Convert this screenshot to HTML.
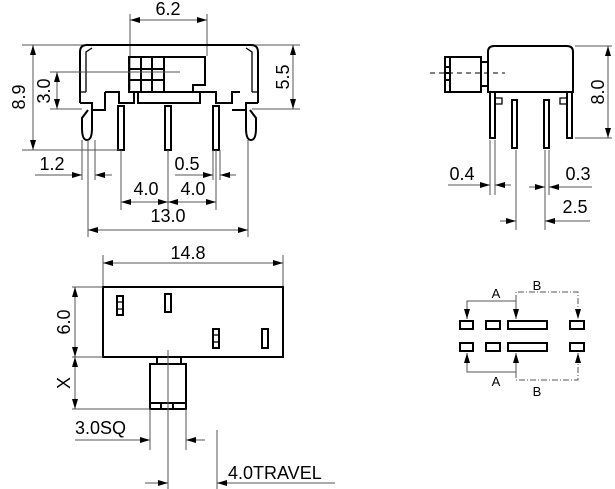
<!DOCTYPE html>
<html><head><meta charset="utf-8"><style>
html,body{margin:0;padding:0;background:#fff;}
svg{display:block;}
text{font-family:"Liberation Sans",Arial,sans-serif;font-size:18px;fill:#000;}
.t{stroke:#555;stroke-width:1;fill:none;}
.k{stroke:#000;stroke-width:2;fill:none;}
.k1{stroke:#000;stroke-width:1.3;fill:none;}
</style></head><body>
<svg width="615" height="489" viewBox="0 0 615 489" xmlns="http://www.w3.org/2000/svg">
<defs>
<marker id="a" viewBox="0 0 10 6" refX="10" refY="3" markerWidth="10" markerHeight="6" orient="auto-start-reverse" markerUnits="userSpaceOnUse"><path d="M0,0 L10,3 L0,6 z" fill="#000"/></marker>
</defs>

<line class="t" x1="130" y1="14" x2="130" y2="90"/>
<line class="t" x1="207" y1="14" x2="207" y2="56"/>
<line class="t" x1="130" y1="20" x2="207" y2="20" marker-start="url(#a)" marker-end="url(#a)"/>
<text x="168" y="15" text-anchor="middle">6.2</text>

<line class="t" x1="22" y1="45" x2="300" y2="45"/>
<path class="k" d="M80,103 L80,52 Q80,45 87,45 L251,45 Q258,45 258,52 L258,103"/>
<path class="k1" d="M86,92 L86,52 L92,48 M252,92 L252,52 L246,48"/>
<line class="k1" x1="80" y1="92" x2="86" y2="92"/><line class="k1" x1="252" y1="92" x2="258" y2="92"/>
<rect class="k" x="129" y="57" width="35" height="35"/>
<path class="k" d="M141,57 V92 M152,57 V92 M129,69 H164 M129,80 H164"/>
<path class="k" d="M164,57 H205 V85 H193 V92"/>
<rect class="k" x="138" y="92" width="62" height="11"/>
<path class="k" d="M105,92 H119 V103 H134 V92 H138 M200,92 H216 V103 H232 V92 H240"/>
<path class="k" d="M80,103 H92 V110 H105 V92 M258,103 H246 V110 H232"/>
<rect class="k" x="118" y="106" width="6" height="44"/>
<rect class="k" x="165" y="106" width="6" height="44"/>
<rect class="k" x="213" y="106" width="6" height="44"/>
<path class="k" d="M92,110 L92,128 Q92,140 87,140 Q82,140 82,128 L82,118 L88,110"/>
<path class="k" d="M246,110 L246,128 Q246,140 251,140 Q256,140 256,128 L256,118 L250,110"/>
<line class="t" x1="22" y1="150" x2="120" y2="150"/>
<line class="t" x1="33" y1="45" x2="33" y2="150" marker-start="url(#a)" marker-end="url(#a)"/>
<text transform="translate(25,97) rotate(-90)" text-anchor="middle">8.9</text>
<line class="t" x1="50" y1="72" x2="180" y2="72"/>
<line class="t" x1="50" y1="109" x2="82" y2="109"/>
<line class="t" x1="57" y1="72" x2="57" y2="109" marker-start="url(#a)" marker-end="url(#a)"/>
<text transform="translate(50,91) rotate(-90)" text-anchor="middle">3.0</text>
<line class="t" x1="252" y1="109" x2="300" y2="109"/>
<line class="t" x1="293" y1="45" x2="293" y2="109" marker-start="url(#a)" marker-end="url(#a)"/>
<text transform="translate(289,77) rotate(-90)" text-anchor="middle">5.5</text>
<line class="t" x1="82" y1="140" x2="82" y2="180"/>
<line class="t" x1="95" y1="140" x2="95" y2="180"/>
<line class="t" x1="35" y1="175" x2="82" y2="175" marker-end="url(#a)"/>
<line class="t" x1="112" y1="175" x2="95" y2="175" marker-end="url(#a)"/>
<text x="52" y="170" text-anchor="middle">1.2</text>
<line class="t" x1="213" y1="150" x2="213" y2="180"/>
<line class="t" x1="220" y1="150" x2="220" y2="180"/>
<line class="t" x1="175" y1="175" x2="213" y2="175" marker-end="url(#a)"/>
<line class="t" x1="236" y1="175" x2="220" y2="175" marker-end="url(#a)"/>
<text x="187" y="170" text-anchor="middle">0.5</text>
<line class="t" x1="121" y1="150" x2="121" y2="210"/>
<line class="t" x1="168" y1="150" x2="168" y2="210"/>
<line class="t" x1="216" y1="150" x2="216" y2="210"/>
<line class="t" x1="121" y1="202" x2="168" y2="202" marker-start="url(#a)" marker-end="url(#a)"/>
<line class="t" x1="168" y1="202" x2="216" y2="202" marker-start="url(#a)" marker-end="url(#a)"/>
<text x="146" y="195" text-anchor="middle">4.0</text>
<text x="193" y="195" text-anchor="middle">4.0</text>
<line class="t" x1="88" y1="140" x2="88" y2="237"/>
<line class="t" x1="248" y1="140" x2="248" y2="237"/>
<line class="t" x1="88" y1="230" x2="248" y2="230" marker-start="url(#a)" marker-end="url(#a)"/>
<text x="168" y="222" text-anchor="middle">13.0</text>

<path class="k" d="M488,92 V52 Q488,46 494,46 L567,46 Q573,46 573,52 V92 Z"/>
<rect class="k" x="445" y="57" width="36" height="35"/>
<rect class="k" x="481" y="62" width="7" height="24"/>
<path class="k" d="M450,57 V92 M445,67 H450 M445,73 H450 M445,80 H450"/>
<line stroke="#000" stroke-width="1" stroke-dasharray="5,4" x1="430" y1="73" x2="505" y2="73"/>
<rect class="k" x="490" y="92" width="5" height="46"/>
<rect class="k" x="567" y="92" width="5" height="46"/>
<rect class="k" x="512" y="100" width="5" height="48"/>
<rect class="k" x="544" y="100" width="5" height="48"/>
<path class="k1" d="M495,104 H502 V98 H495 M567,104 H560 V98 H567"/>
<line class="t" x1="575" y1="46" x2="612" y2="46"/>
<line class="t" x1="575" y1="138" x2="612" y2="138"/>
<line class="t" x1="608" y1="46" x2="608" y2="138" marker-start="url(#a)" marker-end="url(#a)"/>
<text transform="translate(604,92) rotate(-90)" text-anchor="middle">8.0</text>
<line class="t" x1="490" y1="140" x2="490" y2="195"/>
<line class="t" x1="495" y1="140" x2="495" y2="195"/>
<line class="t" x1="448" y1="185" x2="490" y2="185" marker-end="url(#a)"/>
<line class="t" x1="511" y1="185" x2="495" y2="185" marker-end="url(#a)"/>
<text x="462" y="180" text-anchor="middle">0.4</text>
<line class="t" x1="545" y1="150" x2="545" y2="195"/>
<line class="t" x1="549" y1="150" x2="549" y2="195"/>
<line class="t" x1="529" y1="187" x2="545" y2="187" marker-end="url(#a)"/>
<line class="t" x1="592" y1="187" x2="549" y2="187" marker-end="url(#a)"/>
<text x="578" y="180" text-anchor="middle">0.3</text>
<line class="t" x1="516" y1="150" x2="516" y2="230"/>
<line class="t" x1="545" y1="195" x2="545" y2="230"/>
<line class="t" x1="500" y1="221" x2="516" y2="221" marker-end="url(#a)"/>
<line class="t" x1="590" y1="221" x2="545" y2="221" marker-end="url(#a)"/>
<text x="575" y="213" text-anchor="middle">2.5</text>

<line class="t" x1="103" y1="255" x2="103" y2="286"/>
<line class="t" x1="283" y1="255" x2="283" y2="286"/>
<line class="t" x1="103" y1="263" x2="283" y2="263" marker-start="url(#a)" marker-end="url(#a)"/>
<text x="188" y="259" text-anchor="middle">14.8</text>
<rect class="k" x="103" y="287" width="180" height="70"/>
<rect class="k" x="117" y="296" width="6" height="19"/>
<line class="k1" x1="117" y1="302" x2="123" y2="302"/><line class="k1" x1="117" y1="309" x2="123" y2="309"/>
<rect class="k" x="165" y="294" width="6" height="18"/>
<rect class="k" x="213" y="329" width="6" height="19"/>
<line class="k1" x1="213" y1="335" x2="219" y2="335"/><line class="k1" x1="213" y1="342" x2="219" y2="342"/>
<rect class="k" x="262" y="329" width="6" height="19"/>
<rect class="k" x="157" y="357" width="24" height="7"/>
<rect class="k" x="150" y="364" width="36" height="45"/>
<path class="k" d="M150,403 H186 M161,403 V409 M173,403 V409"/>
<line class="t" x1="168" y1="350" x2="168" y2="489"/>
<line class="t" x1="72" y1="287" x2="103" y2="287"/>
<line class="t" x1="72" y1="357" x2="103" y2="357"/>
<line class="t" x1="72" y1="409" x2="150" y2="409"/>
<line class="t" x1="75" y1="287" x2="75" y2="357" marker-start="url(#a)" marker-end="url(#a)"/>
<line class="t" x1="75" y1="357" x2="75" y2="409" marker-start="url(#a)" marker-end="url(#a)"/>
<text transform="translate(70,322) rotate(-90)" text-anchor="middle">6.0</text>
<text transform="translate(70,383) rotate(-90)" text-anchor="middle">X</text>
<line class="t" x1="150" y1="409" x2="150" y2="450"/>
<line class="t" x1="186" y1="409" x2="186" y2="450"/>
<line class="t" x1="75" y1="440" x2="150" y2="440" marker-end="url(#a)"/>
<line class="t" x1="205" y1="440" x2="186" y2="440" marker-end="url(#a)"/>
<text x="75" y="434">3.0SQ</text>
<line class="t" x1="217" y1="430" x2="217" y2="489"/>
<line class="t" x1="145" y1="483" x2="168" y2="483" marker-end="url(#a)"/>
<line class="t" x1="335" y1="483" x2="217" y2="483" marker-end="url(#a)"/>
<text x="228" y="479">4.0TRAVEL</text>

<g class="k">
<rect x="460" y="321" width="13" height="8"/><rect x="486" y="321" width="14" height="8"/>
<rect x="508" y="321" width="39" height="8"/><rect x="570" y="321" width="14" height="8"/>
<rect x="460" y="343" width="13" height="8"/><rect x="486" y="343" width="14" height="8"/>
<rect x="508" y="343" width="39" height="8"/><rect x="570" y="343" width="14" height="8"/>
</g>
<path class="t" d="M467,319 V301 H516 V319" marker-start="url(#a)" marker-end="url(#a)"/>
<path class="t" d="M467,353 V372 H516 V353" marker-start="url(#a)" marker-end="url(#a)"/>
<path d="M516,301 V292 H578 V319" fill="none" stroke="#555" stroke-dasharray="6,2,1,2" marker-end="url(#a)"/>
<path d="M516,372 V380 H578 V353" fill="none" stroke="#555" stroke-dasharray="6,2,1,2" marker-end="url(#a)"/>
<text x="496" y="298" text-anchor="middle" style="font-size:13px">A</text>
<text x="496" y="386" text-anchor="middle" style="font-size:13px">A</text>
<text x="537" y="290" text-anchor="middle" style="font-size:13px">B</text>
<text x="537" y="396" text-anchor="middle" style="font-size:13px">B</text>
</svg>
</body></html>
